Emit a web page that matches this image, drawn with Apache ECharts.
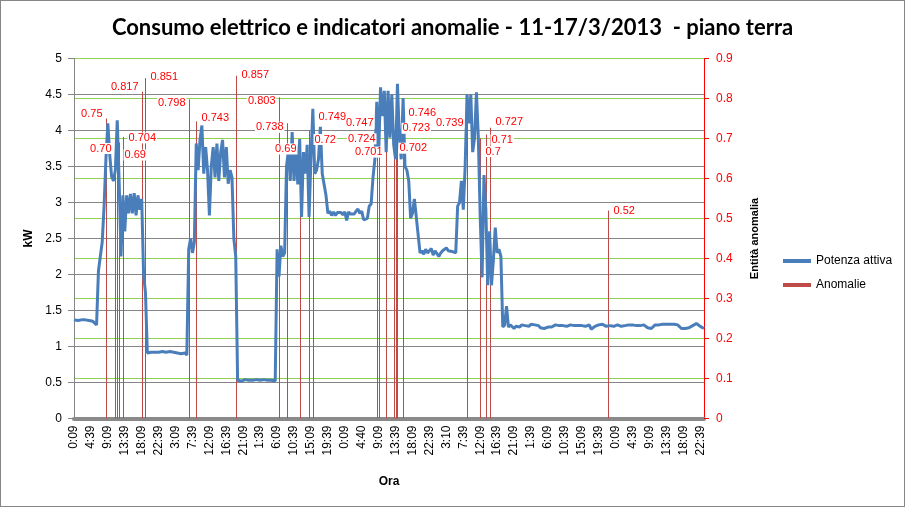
<!DOCTYPE html>
<html><head><meta charset="utf-8">
<script src="https://cdn.jsdelivr.net/npm/echarts@6/dist/echarts.min.js"></script>
<style>
html,body{margin:0;padding:0;background:#fff}
#frame{position:absolute;left:0;top:0;width:903px;height:505px;border:1px solid #868686}
#c{position:absolute;left:0;top:0;width:905px;height:507px}
</style></head>
<body><div id="frame"></div><div id="c"></div>
<script>
// x-axis tick labels (every 4.5 h)
const tickLabels = ['0:09','4:39','9:09','13:39','18:09','22:39','3:09','7:39','12:09','16:39','21:09',
  '1:39','6:09','10:39','15:09','19:39','0:09','4:40','9:09','13:39','18:09','22:39','3:10','7:39',
  '12:09','16:39','21:09','1:39','6:09','10:39','15:09','19:39','0:09','4:39','9:09','13:39','18:09','22:39'];

// Potenza attiva (kW), half-hour readings, one array per day (11..17/3)
const power11 = [1.37,1.37,1.36,1.37,1.37,1.36,1.37,1.36,1.36,1.37,1.35,1.33,1.30,
  2.05,2.25,2.45,2.95,3.62,4.10,3.66,3.36,3.30,3.45,4.14,3.30,2.25,3.10,2.60,3.10,2.85,3.12,2.85,
  3.13,2.82,3.10,2.90,3.05,2.00,1.75,0.91,0.92,0.92,0.91,0.92,0.93,0.92,0.92,0.93];
const power12 = [0.94,0.92,0.92,0.93,0.91,0.92,0.90,0.91,0.89,0.90,0.89,0.91,0.88,
  2.35,2.50,2.30,2.45,
  3.82,3.45,3.87,4.07,3.40,3.77,3.45,2.82,3.50,3.77,3.35,3.82,3.30,3.70,3.87,3.35,3.77,3.26,3.45,3.35,2.50,2.25,
  0.53,0.53,0.52,0.53,0.54,0.53,0.53,0.54,0.53];
const power13 = [0.53,0.54,0.55,0.53,0.53,0.54,0.53,0.53,0.52,0.53,0.53,0.52,
  2.35,1.97,2.40,2.25,2.30,
  3.50,3.72,3.30,3.98,3.30,3.80,3.25,3.88,2.80,3.70,3.40,3.80,2.80,3.60,4.30,3.40,3.45,3.60,4.05,3.40,3.40,3.10,
  2.85,2.88,2.82,2.87,2.82,2.86,2.84,2.86,2.83];
const power14 = [2.87,2.75,2.87,2.84,2.86,2.84,2.88,2.91,2.85,2.88,2.76,2.74,2.78,2.95,2.98,
  3.35,3.60,4.40,3.65,4.60,4.20,4.55,3.70,4.55,3.90,4.50,3.80,3.60,4.65,3.90,3.60,4.45,3.50,3.45,3.30,2.78,2.85,3.05,2.80,2.78,
  2.30,2.33,2.28,2.35,2.30,2.32,2.36,2.27];
const power15 = [2.33,2.35,2.25,2.30,2.33,2.35,2.37,2.33,2.33,2.32,2.33,2.30,
  2.95,3.00,3.30,2.90,3.50,4.50,4.10,4.50,3.70,3.90,4.53,3.90,2.80,1.96,3.38,2.90,1.85,2.60,1.85,2.20,2.65,2.30,2.35,2.25,
  1.27,1.30,1.56,1.27,1.30,1.28,1.25,1.28,1.29,1.27,1.30,1.28];
const power16 = [1.29,1.30,1.28,1.31,1.29,1.30,1.28,1.29,1.26,1.27,1.25,1.26,1.27,1.25,1.27,1.29,
  1.30,1.28,1.29,1.31,1.29,1.30,1.28,1.29,1.30,1.28,1.29,1.31,1.29,1.28,1.29,1.30,
  1.28,1.29,1.30,1.24,1.25,1.28,1.29,1.30,1.29,1.31,1.29,1.28,1.30,1.29,1.30,1.28];
const power17 = [1.29,1.30,1.29,1.28,1.30,1.29,1.28,1.30,1.29,1.30,1.28,1.29,1.30,1.29,1.28,1.30,
  1.29,1.26,1.25,1.25,1.27,1.30,1.31,1.30,1.32,1.31,1.30,1.31,1.32,1.31,1.30,1.31,
  1.32,1.30,1.29,1.25,1.24,1.25,1.24,1.26,1.27,1.29,1.31,1.32,1.30,1.28,1.26,1.25];

// Anomalie: time of each anomaly and its value (secondary axis)
const anomalyTimes = ['11/3 8:39','11/3 11:09','11/3 11:39','11/3 12:09','11/3 13:09','11/3 18:09','11/3 19:09',
  '12/3 6:39','12/3 8:39','12/3 19:09',
  '13/3 6:39','13/3 8:39','13/3 12:09','13/3 14:39','13/3 15:39',
  '14/3 8:39','14/3 9:09','14/3 11:09','14/3 13:09','14/3 13:39','14/3 14:09','14/3 15:39',
  '15/3 8:39','15/3 12:09','15/3 13:39','15/3 14:39','16/3 22:09'];
const anomalyValues = [0.75,0.70,0.70,0.69,0.704,0.817,0.851,
  0.798,0.743,0.857,
  0.803,0.738,0.69,0.72,0.749,
  0.747,0.724,0.701,0.702,0.71,0.723,0.746,
  0.739,0.7,0.71,0.727,0.52];
const anomalyLabels = ['0.75','0.70','','0.69','0.704','0.817','0.851',
  '0.798','0.743','0.857',
  '0.803','0.738','0.69','0.72','0.749',
  '0.747','0.724','0.701','0.702','','0.723','0.746',
  '0.739','0.7','0.71','0.727','0.52'];
// label placement (style only): side of the line and vertical shift in px
const labelSide = ['L','L','L','R','R','L','R', 'L','R','R', 'L','L','L','R','R',
  'L','L','L','R','R','R','R', 'L','R','R','R','R'];
const labelDy = [-5,10,0,12.5,1,-5,-1.5, 4,-3,-1, 4,4,6.5,9,-1.5,
  3.5,10,14,10.5,0,-1,-7, 0,13,5.5,-6,0];

// ---- build ----
const power = [].concat(power11,power12,power13,power14,power15,power16,power17);
const categories = power.map((_, i) => {
  const m = 9 + 30 * i;
  const d = 11 + Math.floor(m / 1440);
  const t = m % 1440;
  const h = Math.floor(t / 60), mm = t % 60;
  return d + '/3 ' + h + ':' + (mm < 10 ? '0' : '') + mm;
});
const anomalyData = anomalyTimes.map((t, k) => [categories.indexOf(t), anomalyValues[k]]);

const FONT = 'Liberation Sans';
const chart = echarts.init(document.getElementById('c'), null, {renderer: 'canvas'});
chart.setOption({
  animation: false,
  backgroundColor: 'transparent',
  title: {
    text: 'Consumo elettrico e indicatori anomalie - 11-17/3/2013  - piano terra',
    left: 'center', top: 12,
    textStyle: {fontFamily: 'Lato', fontWeight: 'bold', fontSize: 22, color: '#000'}
  },
  legend: {
    data: ['Potenza attiva', 'Anomalie'],
    orient: 'vertical', left: 778, top: 250,
    icon: 'rect', itemWidth: 28, itemHeight: 4, itemGap: 12,
    textStyle: {fontFamily: FONT, fontSize: 12, color: '#000'}
  },
  grid: {left: 74, right: 201, top: 58.5, bottom: 88.5},
  xAxis: {
    type: 'category', data: categories, boundaryGap: false,
    axisLine: {lineStyle: {color: '#8a8a8a', width: 4}},
    axisTick: {show: false},
    axisLabel: {
      interval: 8, rotate: 90, margin: 7,
      formatter: (v, i) => tickLabels[Math.round(i / 9)],
      fontFamily: FONT, fontSize: 12, color: '#000'
    },
    splitLine: {show: false},
    name: 'Ora', nameLocation: 'middle', nameGap: 57,
    nameTextStyle: {fontFamily: FONT, fontWeight: 'bold', fontSize: 12, color: '#000'}
  },
  yAxis: [{
    type: 'value', min: 0, max: 5, interval: 0.5,
    axisLine: {show: true, lineStyle: {color: '#868686'}},
    axisTick: {show: true, length: 6, lineStyle: {color: '#868686'}},
    axisLabel: {margin: 12, fontFamily: FONT, fontSize: 12, color: '#000'},
    splitLine: {lineStyle: {color: '#868686', width: 1}},
    name: 'kW', nameLocation: 'middle', nameGap: 37,
    nameTextStyle: {fontFamily: FONT, fontWeight: 'bold', fontSize: 12, color: '#000'}
  }, {
    type: 'value', position: 'right', min: 0, max: 0.9, interval: 0.1,
    axisLine: {show: true, lineStyle: {color: '#FF0000'}},
    axisTick: {show: true, length: 5, lineStyle: {color: '#FF0000'}},
    axisLabel: {margin: 12, fontFamily: FONT, fontSize: 12, color: '#FF0000',
      formatter: v => String(Math.round(v * 10) / 10)},
    splitLine: {show: true, lineStyle: {color: '#92D050', width: 1}},
    name: 'Entità anomalia', nameLocation: 'middle', nameGap: 45,
    nameTextStyle: {fontFamily: FONT, fontWeight: 'bold', fontSize: 11, color: '#000'}
  }],
  series: [{
    name: 'Anomalie', type: 'custom', yAxisIndex: 1, z: 2,
    data: anomalyData, encode: {x: 0, y: 1},
    itemStyle: {color: '#BE4B48'},
    renderItem: (params, api) => {
      const p0 = api.coord([api.value(0), 0]);
      const p1 = api.coord([api.value(0), api.value(1)]);
      const x = Math.round(p0[0]) + 0.5;
      return {type: 'line', shape: {x1: x, y1: p0[1], x2: x, y2: p1[1]},
        style: {stroke: '#BE4B48', lineWidth: 1}};
    }
  }, {
    name: 'Potenza attiva', type: 'line', yAxisIndex: 0, z: 3,
    data: power, showSymbol: false, symbol: 'none',
    lineStyle: {color: '#4A7EBB', width: 3}, itemStyle: {color: '#4A7EBB'}
  }, {
    name: 'anomalyLabels', type: 'custom', yAxisIndex: 1, z: 10,
    data: anomalyData, encode: {x: 0, y: 1}, silent: true,
    renderItem: (params, api) => {
      const k = params.dataIndex;
      if (!anomalyLabels[k]) return null;
      const p = api.coord([api.value(0), api.value(1)]);
      const x = Math.round(p[0]) + 0.5;
      const left = labelSide[k] === 'L';
      return {type: 'text', x: left ? x - 3 : x + 4, y: p[1] + labelDy[k],
        style: {text: anomalyLabels[k], fill: '#FF0000', font: '11px "Liberation Sans"',
          align: left ? 'right' : 'left', verticalAlign: 'middle',
          backgroundColor: '#fff', padding: [0, 1]}};
    }
  }]
});
</script>
</body></html>
